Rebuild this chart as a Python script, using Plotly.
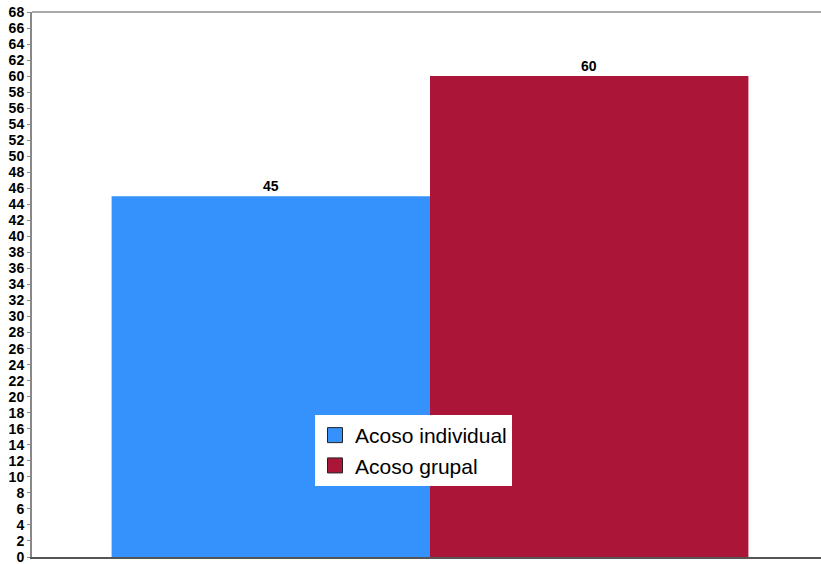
import plotly.graph_objects as go

series_names = ["Acoso individual", "Acoso grupal"]
series_values = [45, 60]
series_colors = ["#3592fd", "#ab1537"]
y_ticks = list(range(0, 70, 2))

FONT = "Liberation Sans, Arial"

fig = go.Figure()
for name, val, col in zip(series_names, series_values, series_colors):
    fig.add_trace(go.Bar(
        x=[0], y=[val], name=name, marker=dict(color=col, line=dict(width=0)),
        offsetgroup=name, showlegend=False,
    ))
# legend entries (square swatches with dark outline)
for name, col in zip(series_names, series_colors):
    fig.add_trace(go.Scatter(
        x=[None], y=[None], mode="markers", name=name,
        marker=dict(symbol="square", size=15, color=col,
                    line=dict(color="#222222", width=1)),
    ))

offsets = [-0.2, 0.2]
for off, val in zip(offsets, series_values):
    fig.add_annotation(x=off, y=val, text="%d" % val, showarrow=False,
                       yanchor="bottom", yshift=0, bgcolor="white", borderpad=1,
                       font=dict(family=FONT, size=14, color="black", weight="bold"))

fig.update_layout(
    width=821, height=564,
    margin=dict(l=32, r=0, t=12, b=7, autoexpand=False),
    paper_bgcolor="white", plot_bgcolor="white",
    barmode="group", bargap=0.2, bargroupgap=0,
    showlegend=True,
    legend=dict(x=0.3587, y=0.2606, xanchor="left", yanchor="top",
                bgcolor="white", borderwidth=0,
                font=dict(family=FONT, size=21, color="black"),
                itemwidth=30, tracegroupgap=0),
    font=dict(family=FONT),
)
fig.update_xaxes(range=[-0.5, 0.4912], showticklabels=False, showgrid=False,
                 zeroline=False, showline=True, linecolor="#555555", linewidth=2,
                 mirror=False, fixedrange=True, automargin=False)
fig.update_yaxes(range=[0, 68], tickvals=y_ticks, ticktext=[str(t) for t in y_ticks],
                 showgrid=False, zeroline=False, showline=True, linecolor="#888888",
                 linewidth=2, ticks="outside", ticklen=3, tickcolor="#888888",
                 automargin=False, ticklabeloverflow="allow",
                 tickfont=dict(family=FONT, size=14, color="black", weight="bold"))
fig.add_shape(type="line", xref="paper", yref="paper", x0=0, x1=1, y0=1, y1=1,
              line=dict(color="#aaaaaa", width=2))
fig.write_html("out.html", config={"displayModeBar": False},
               post_script="document.body.style.margin='0';")
